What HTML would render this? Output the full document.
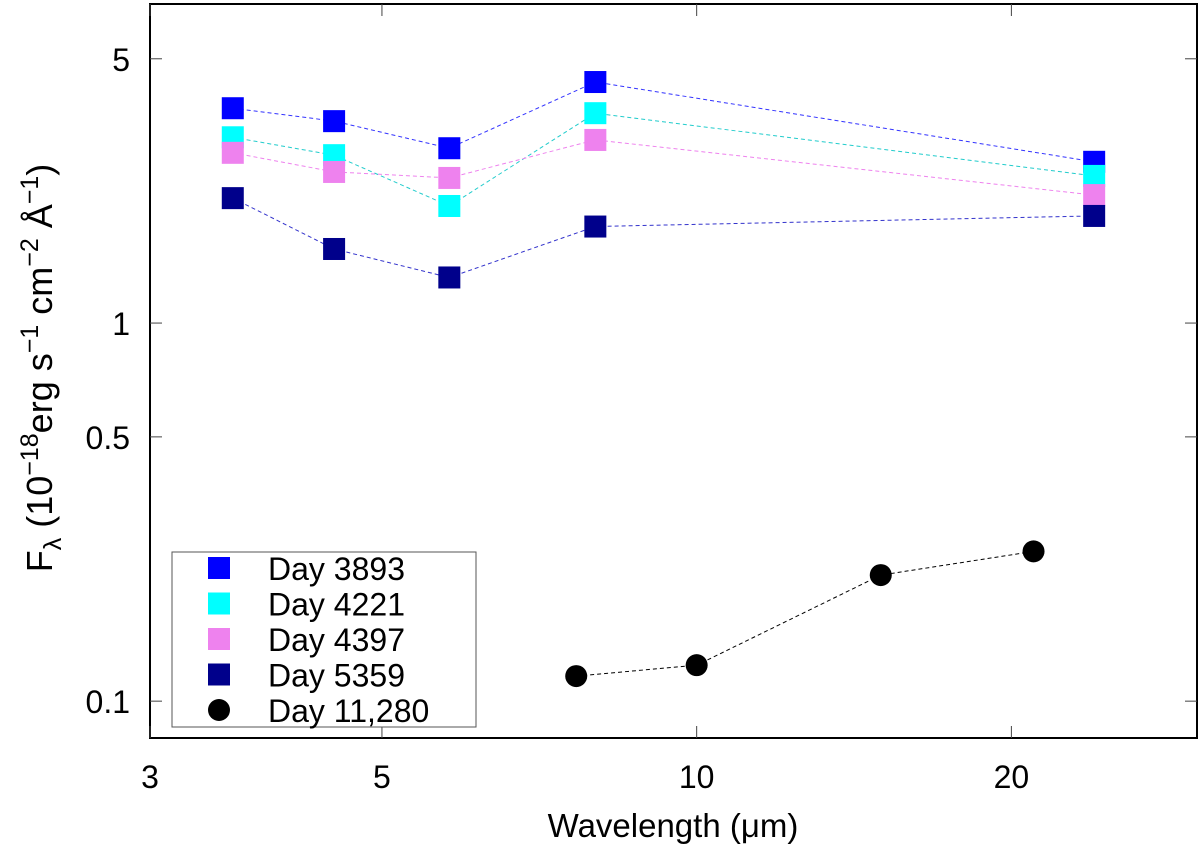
<!DOCTYPE html>
<html><head><meta charset="utf-8"><style>
html,body{margin:0;padding:0;background:#fff;}
svg{display:block;font-family:"Liberation Sans",sans-serif;}
</style></head><body>
<svg id="chart" width="1200" height="850" viewBox="0 0 1200 850">
<script>
const wavelengths = [3.6, 4.5, 5.8, 8.0, 24.0];
const day3893 = [3.70, 3.42, 2.90, 4.34, 2.67];
const day4221 = [3.10, 2.78, 2.04, 3.59, 2.45];
const day4397 = [2.82, 2.51, 2.42, 3.05, 2.18];
const day5359 = [2.14, 1.57, 1.32, 1.80, 1.92];
const wavelengthsLate = [7.67, 10.0, 15.0, 21.0];
const day11280 = [0.1165, 0.1245, 0.2155, 0.249];
const xTicks = [3, 5, 10, 20];
const yTicks = [0.1, 0.5, 1, 5];
const seriesNames = ["Day 3893", "Day 4221", "Day 4397", "Day 5359", "Day 11,280"];
</script>
<script>
(function(){
const NS="http://www.w3.org/2000/svg";
const svg=document.getElementById('chart');
const L=150,R=1197,T=4,B=738;
const xmin=3,xmax=30.1,ymin=0.0799,ymax=6.98;
const X=v=>L+(Math.log10(v)-Math.log10(xmin))/(Math.log10(xmax)-Math.log10(xmin))*(R-L);
const Y=v=>B-(Math.log10(v)-Math.log10(ymin))/(Math.log10(ymax)-Math.log10(ymin))*(B-T);
function mk(tag,attrs,parent){const e=document.createElementNS(NS,tag);for(const k in attrs)e.setAttribute(k,attrs[k]);(parent||svg).appendChild(e);return e;}
const frame=mk('rect',{x:L,y:T,width:R-L,height:B-T,fill:'none',stroke:'#000','stroke-width':2});


xTicks.forEach(t=>{const x=X(t);
 const l1=mk('line',{x1:x,y1:B,x2:x,y2:B-12,stroke:'#444','stroke-width':1});
 
 
 const l2=mk('line',{x1:x,y1:T,x2:x,y2:T+12,stroke:'#444','stroke-width':1});
 
 
 const tx=mk('text',{x:x,y:B+50,'font-size':32,'text-anchor':'middle'});tx.textContent=t;
 
 
});
yTicks.forEach(t=>{const y=Y(t);
 const l1=mk('line',{x1:L,y1:y,x2:L+12,y2:y,stroke:'#444','stroke-width':1});
 
 
 const l2=mk('line',{x1:R,y1:y,x2:R-12,y2:y,stroke:'#444','stroke-width':1});
 
 
 const tx=mk('text',{x:L-20,y:y+12,'font-size':32,'text-anchor':'end'});tx.textContent=t;
 
 
});
const series=[
 {xs:wavelengths,ys:day3893,color:'#0000ff',line:'#3333ff',marker:'sq',name:'series-day-3893'},
 {xs:wavelengths,ys:day4221,color:'#00ffff',line:'#22cccc',marker:'sq',name:'series-day-4221'},
 {xs:wavelengths,ys:day4397,color:'#ee82ee',line:'#ee82ee',marker:'sq',name:'series-day-4397'},
 {xs:wavelengths,ys:day5359,color:'#00008b',line:'#3333cc',marker:'sq',name:'series-day-5359'},
 {xs:wavelengthsLate,ys:day11280,color:'#000000',line:'#000',marker:'ci',name:'series-day-11280'}
];
series.forEach(s=>{
 const g=mk('g',{});
 
 
 const pts=s.xs.map((x,i)=>X(x).toFixed(1)+','+Y(s.ys[i]).toFixed(1)).join(' ');
 const pl=mk('polyline',{points:pts,fill:'none',stroke:s.line,'stroke-width':1,'stroke-dasharray':'4,3'},g);
 
 
 s.xs.forEach((x,i)=>{
  let m;
  if(s.marker==='sq') m=mk('rect',{x:X(x)-11,y:Y(s.ys[i])-11,width:22,height:22,fill:s.color},g);
  else m=mk('circle',{cx:X(x),cy:Y(s.ys[i]),r:11,fill:s.color},g);
  
  
 });
});
const lg=mk('g',{});


mk('rect',{x:172,y:552,width:304,height:175,fill:'#fff',stroke:'#555','stroke-width':1},lg);
seriesNames.forEach((n,i)=>{
 const y=568+i*35.5;
 const e=mk('g',{},lg);
 
 
 const s=series[i];
 if(s.marker==='sq') mk('rect',{x:208,y:y-11,width:22,height:22,fill:s.color},e);
 else mk('circle',{cx:219,cy:y,r:11,fill:s.color},e);
 const t=mk('text',{x:268,y:y+12,'font-size':32},e);t.textContent=n;
});
})();
</script>
<text x="673" y="837" font-size="33" text-anchor="middle">Wavelength (μm)</text>
<text transform="translate(52,368) rotate(-90)" font-size="36" text-anchor="middle">F<tspan font-size="25" dy="9">λ</tspan><tspan dy="-9"> (10</tspan><tspan font-size="25" dy="-14">−18</tspan><tspan dy="14">erg s</tspan><tspan font-size="25" dy="-14">−1</tspan><tspan dy="14"> cm</tspan><tspan font-size="25" dy="-14">−2</tspan><tspan dy="14"> Å</tspan><tspan font-size="25" dy="-14">−1</tspan><tspan dy="14">)</tspan></text>
</svg>
</body></html>
